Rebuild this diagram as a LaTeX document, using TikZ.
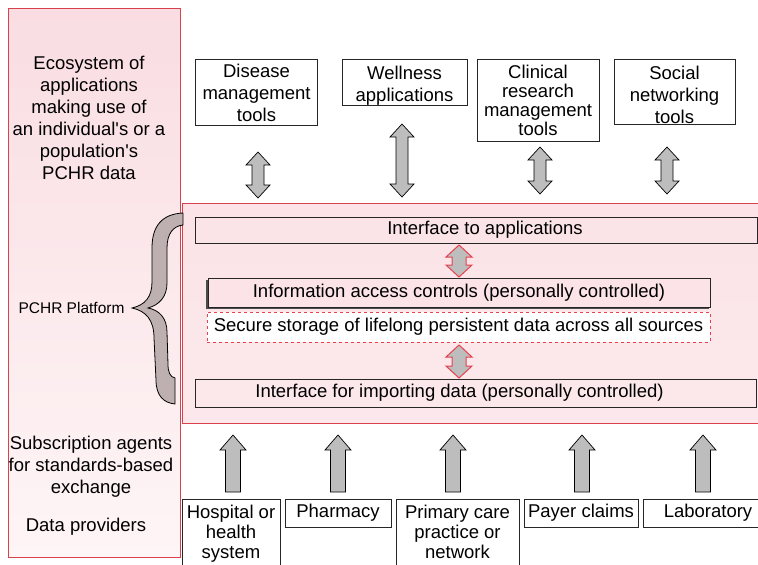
\documentclass[tikz,border=0pt]{standalone}
\usepackage{fontspec}
\setmainfont{Liberation Sans}[Ligatures=TeXOff]
\usetikzlibrary{calc}
\definecolor{redline}{HTML}{D9414C}
\definecolor{redarrow}{HTML}{E8414D}
\definecolor{arrgray}{HTML}{BDBDBD}
\definecolor{bracegray}{HTML}{BEB0B0}
\definecolor{pinktop}{HTML}{F9DDE2}
\definecolor{pinkbot}{HTML}{FEF5F6}
\definecolor{platpink}{HTML}{FBE3E7}
\newcommand\twowayarrow[6]{%
  \draw[#1] let \p1=(#2), \p2=(#3) in
    (\x1,\y1) -- (\x1+#4pt,\y1-#6pt) -- (\x1+#5pt,\y1-#6pt) -- (\x1+#5pt,\y2+#6pt)
    -- (\x1+#4pt,\y2+#6pt) -- (\x1,\y2) -- (\x1-#4pt,\y2+#6pt) -- (\x1-#5pt,\y2+#6pt)
    -- (\x1-#5pt,\y1-#6pt) -- (\x1-#4pt,\y1-#6pt) -- cycle;}
\newcommand\uparrowfat[3]{%
  \draw[#1] let \p1=(#2), \p2=(#3) in
    (\x1,\y1) -- (\x1+13pt,\y1-15pt) -- (\x1+7.5pt,\y1-15pt) -- (\x1+7.5pt,\y2)
    -- (\x1-7.5pt,\y2) -- (\x1-7.5pt,\y1-15pt) -- (\x1-13pt,\y1-15pt) -- cycle;}
\newcommand\lnstrut{\rule[-6pt]{0pt}{20pt}}
\newcommand\topstrut{\rule{0pt}{20pt}}
\tikzset{
  every node/.style={font=\fontsize{18.5}{22}\selectfont, inner sep=0pt, align=center},
  appbox/.style={draw=black!85, fill=white, line width=0.8pt},
  platbox/.style={draw=black!85, line width=0.8pt},
  grayarrow/.style={fill=arrgray, draw=black, line width=0.7pt, line join=miter},
  redarr/.style={fill=arrgray, draw=redarrow, line width=1pt, line join=miter},
}
\begin{document}
\begin{tikzpicture}[x=1pt,y=-1pt]
\useasboundingbox (0,0) rectangle (758,565);
% left panel
\path[top color=pinktop, bottom color=pinkbot, draw=redline, line width=1pt] (8,8) rectangle (180,557);
% platform panel
\path[top color=platpink, bottom color=platpink!80!white, draw=redline, line width=1pt] (182,203) rectangle (758,423);

% left texts
\node[anchor=north] (eco) at (89,55.5) {Ecosystem of\\applications\\making use of\\an individual's or a\\population's\\PCHR data};
\node[font=\fontsize{15.5}{18}\selectfont, anchor=base] (plat) at (71.5,313.5) {PCHR Platform};
\node[anchor=north] (sub) at (91,436) {Subscription agents\\for standards-based\\exchange};
\node[anchor=base] (dp) at (86,531) {Data providers};

% brace
\draw[fill=bracegray, draw=black, line width=0.8pt]
  (183,213) .. controls (162,214) and (152,226) .. (152,248)
  -- (152,282) .. controls (152,297) and (145,305) .. (132,308)
  .. controls (146,311) and (154,320) .. (154,338)
  -- (156,380) .. controls (156,396) and (164,403) .. (175,404)
  -- (175,378) .. controls (170,377) and (168,372) .. (168,364)
  -- (167,332) .. controls (167,318) and (159,310) .. (148,308)
  .. controls (159,305) and (167,297) .. (167,283)
  -- (167,248) .. controls (167,234) and (173,226) .. (183,225) -- cycle;

% application boxes
\node[appbox, minimum width=122pt, minimum height=66pt] (dis) at (256.5,92.5) {Disease\\management\\tools};
\node[appbox, minimum width=125pt, minimum height=46pt] (wel) at (404.5,82) {\topstrut Wellness\\applications};
\node[appbox, minimum width=122pt, minimum height=82pt, font=\fontsize{18.5}{19}\selectfont] (cli) at (538,100) {Clinical\\research\\management\\tools};
\node[appbox, minimum width=121pt, minimum height=65pt] (soc) at (674.5,91.5) {\topstrut Social\\networking\\tools};

% platform boxes
\node[platbox, minimum width=562pt, minimum height=26pt] (ifa) at (476,230) {\hspace*{18pt}Interface to applications};
\fill[black!70] (206,280) rectangle (709,308.5);
\node[platbox, fill=platpink, minimum width=502pt, minimum height=29pt] (iac) at (459,292.5) {Information access controls (personally controlled)};
\node[draw=redarrow, dashed, line width=0.9pt, fill=white, minimum width=503pt, minimum height=30pt] (sec) at (458.5,327) {Secure storage of lifelong persistent data across all sources};
\node[platbox, minimum width=561pt, minimum height=28pt] (ifi) at (475.5,393) {Interface for importing data (personally controlled)\hspace*{32pt}};

% provider boxes
\node[appbox, minimum width=98pt, minimum height=70pt, font=\fontsize{18.5}{20}\selectfont] (hos) at (231,534) {\lnstrut Hospital or\\health\\system\lnstrut};
\node[appbox, minimum width=106pt, minimum height=28pt] (pha) at (338,513) {Pharmacy};
\node[appbox, minimum width=123pt, minimum height=70pt, font=\fontsize{18.5}{20}\selectfont] (pri) at (457.5,534) {\lnstrut Primary care\\practice or\\network\lnstrut};
\node[appbox, minimum width=114pt, minimum height=28pt] (pay) at (581,513) {Payer claims};
\node[appbox, minimum width=130pt, minimum height=28pt] (lab) at (708,513) {Laboratory};

% top two-way arrows
\coordinate (a1t) at (258,152); \coordinate (a1b) at (258,198);
\coordinate (a2t) at (402,124); \coordinate (a2b) at (402,197);
\coordinate (a3t) at (540,147); \coordinate (a3b) at (540,194);
\coordinate (a4t) at (667,147); \coordinate (a4b) at (667,194);
\twowayarrow{grayarrow}{a1t}{a1b}{12}{6}{13}
\twowayarrow{grayarrow}{a2t}{a2b}{12}{6}{13}
\twowayarrow{grayarrow}{a3t}{a3b}{12}{6}{13}
\twowayarrow{grayarrow}{a4t}{a4b}{12}{6}{13}

% red two-way arrows
\coordinate (r1t) at (459,245); \coordinate (r1b) at (459,277);
\coordinate (r2t) at (459,345); \coordinate (r2b) at (459,378);
\twowayarrow{redarr}{r1t}{r1b}{13}{7}{12}
\twowayarrow{redarr}{r2t}{r2b}{13}{7}{12}

% up arrows from providers
\coordinate (u1t) at (233,435); \coordinate (u1b) at (233,492);
\coordinate (u2t) at (338,435); \coordinate (u2b) at (338,492);
\coordinate (u3t) at (453,435); \coordinate (u3b) at (453,492);
\coordinate (u4t) at (582,435); \coordinate (u4b) at (582,492);
\coordinate (u5t) at (703,435); \coordinate (u5b) at (703,492);
\uparrowfat{grayarrow}{u1t}{u1b}
\uparrowfat{grayarrow}{u2t}{u2b}
\uparrowfat{grayarrow}{u3t}{u3b}
\uparrowfat{grayarrow}{u4t}{u4b}
\uparrowfat{grayarrow}{u5t}{u5b}
\end{tikzpicture}
\end{document}
